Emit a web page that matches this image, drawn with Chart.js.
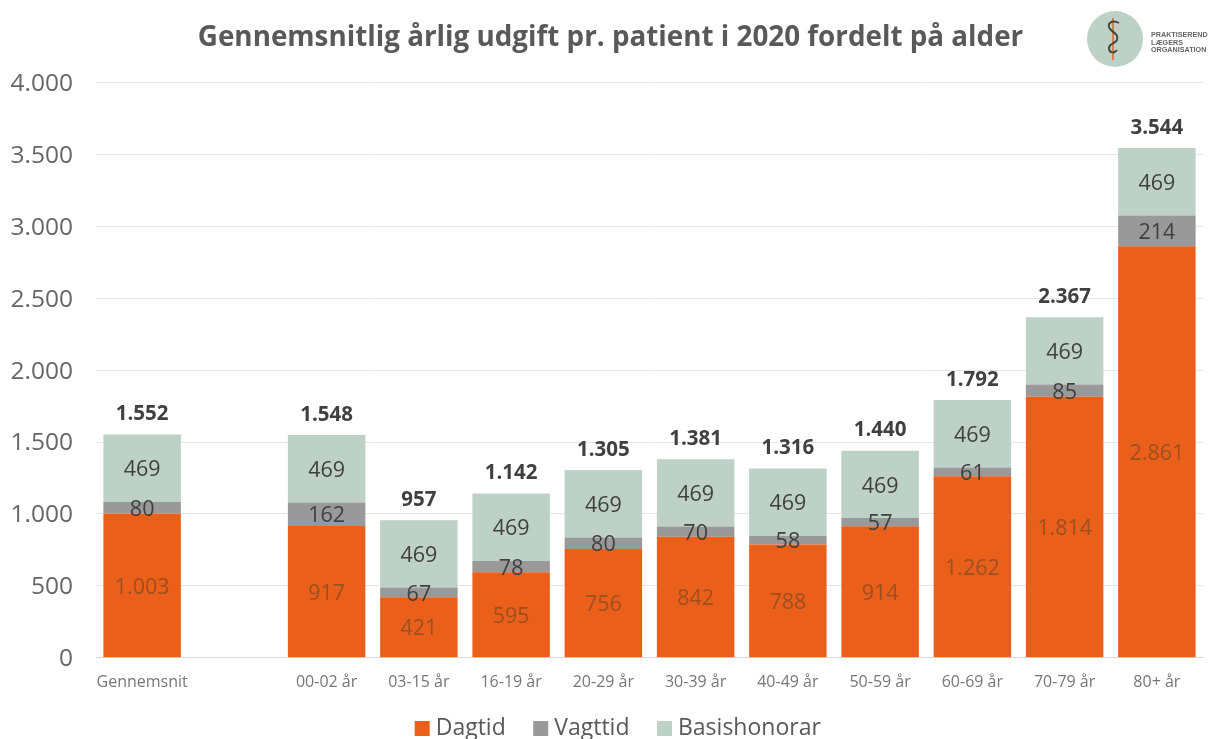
<!DOCTYPE html>
<html lang="da"><head><meta charset="utf-8">
<style>
html,body{margin:0;padding:0;background:#fff;width:1208px;height:739px;overflow:hidden}
#w{position:relative;width:1208px;height:739px}
canvas{position:absolute;left:0;top:0}
#logo{position:absolute;left:1086px;top:10px}
</style>
<script src="https://cdn.jsdelivr.net/npm/chart.js@4"></script>
</head><body><div id="w"><canvas id="c" width="1208" height="739"></canvas>
<svg id="logo" width="122" height="60" viewBox="0 0 122 60">
<circle cx="29" cy="29" r="28" fill="#bdd1c6"/>
<line x1="27" y1="8" x2="27" y2="50" stroke="#e8662a" stroke-width="1.6"/>
<path d="M33 13 C26 9 20 14 24 19 C28 23 33 25 31 30 C29 34 23 33 23 38 C23 43 28 44 31 40" fill="none" stroke="#3d4a46" stroke-width="2"/>
<text font-family="'Liberation Sans Narrow','Liberation Sans',sans-serif" font-size="7.2" font-weight="bold" fill="#666"><tspan x="65" y="27">PRAKTISERENDE</tspan><tspan x="65" y="34.500">LÆGERS</tspan><tspan x="65" y="42">ORGANISATION</tspan></text>
</svg></div>
<script>
const categories=["Gennemsnit","","00-02 år","03-15 år","16-19 år","20-29 år","30-39 år","40-49 år","50-59 år","60-69 år","70-79 år","80+ år"];
const dagtid=[1003,null,917,421,595,756,842,788,914,1262,1814,2861];
const vagttid=[80,null,162,67,78,80,70,58,57,61,85,214];
const basis=[469,null,469,469,469,469,469,469,469,469,469,469];
const totals=[1552,null,1548,957,1142,1305,1381,1316,1440,1792,2367,3544];
const fmt=v=>String(v).replace(/\B(?=(\d{3})+(?!\d))/g,'.');
const FONT="'Open Sans',sans-serif";
const labelPlugin={id:'labels',
 beforeDraw(ch){const l=ch.legend;l.left+=16;l.right+=16;l.top-=15;l.bottom-=15;
  const t=ch.titleBlock;t.left+=6;t.right+=6;},
 afterDatasetsDraw(ch){
  const c=ch.ctx;c.save();c.textAlign='center';c.textBaseline='middle';
  const cols=['#9c4f20','#404040','#404040'];
  ch.data.datasets.forEach((d,i)=>{
    ch.getDatasetMeta(i).data.forEach((el,j)=>{
      if(d.data[j]==null)return;
      c.font='21.5px '+FONT;c.fillStyle=cols[i];
      c.fillText(fmt(d.data[j]),el.x,(el.y+el.base)/2+2);
    });
  });
  const x=ch.scales.x,y=ch.scales.y;
  c.font='bold 20.5px '+FONT;c.fillStyle='#404040';
  totals.forEach((t,j)=>{if(t!=null)c.fillText(fmt(t),x.getPixelForValue(j),y.getPixelForValue(t)-20);});
  c.restore();
}};
new Chart(document.getElementById('c'),{type:'bar',
 data:{labels:categories,datasets:[
  {label:'Dagtid',data:dagtid,backgroundColor:'#ea601b'},
  {label:'Vagttid',data:vagttid,backgroundColor:'#999999'},
  {label:'Basishonorar',data:basis,backgroundColor:'#bdd1c6'}]},
 plugins:[labelPlugin],
 options:{responsive:false,animation:false,devicePixelRatio:1,
  layout:{padding:{left:6,right:5,top:21,bottom:-26}},
  datasets:{bar:{barPercentage:0.84,categoryPercentage:1}},
  plugins:{
   title:{display:true,text:'Gennemsnitlig årlig udgift pr. patient i 2020 fordelt på alder',color:'#595959',font:{family:FONT,size:27.8,weight:'bold'},padding:{top:0,bottom:28}},
   legend:{position:'bottom',labels:{usePointStyle:true,pointStyle:'rect',boxWidth:4,boxHeight:15,color:'#595959',font:{family:FONT,size:23},padding:33}},
   tooltip:{enabled:false}},
  scales:{
   x:{stacked:true,grid:{display:false},border:{color:'#d9d9d9'},ticks:{color:'#777777',font:{family:FONT,size:16},maxRotation:0,autoSkip:false,padding:7}},
   y:{stacked:true,min:0,max:4000,afterFit(s){s.width=90},grid:{color:'#e6e6e6',tickLength:0},border:{display:false},ticks:{stepSize:500,color:'#666666',font:{family:FONT,size:24.5},padding:23,labelOffset:1.5,callback:v=>fmt(v)}}
  }}});
</script></body></html>
